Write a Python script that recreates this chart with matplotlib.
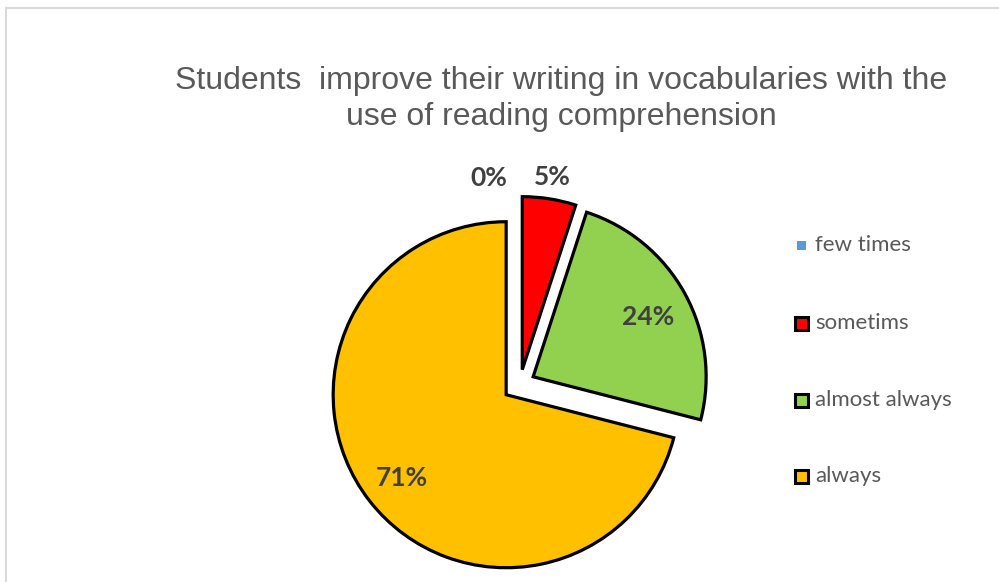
import numpy as np
import matplotlib.pyplot as plt
from matplotlib.patches import Rectangle

# data
categories = ["few times", "sometims", "almost always", "always"]
values = [0, 5, 24, 71]
colors = ["#5B9BD5", "#FF0000", "#92D050", "#FFC000"]
explode_px = [0, 14.5, 15, 17.5]

W, H = 999, 582
fig = plt.figure(figsize=(W / 100, H / 100), dpi=100)
ax = fig.add_axes([0, 0, 1, 1])

cx, cy, r = 520, H - 384, 173
# note: pie explode is in data units here (not a fraction of radius)
wedges, _ = ax.pie(values, colors=colors, startangle=90, counterclock=False,
                   center=(cx, cy), radius=r, explode=explode_px,
                   wedgeprops=dict(edgecolor="black", linewidth=2.3, joinstyle="miter"))
# empty slice shouldn't leave an outline
for w, v in zip(wedges, values):
    if v == 0:
        w.set_linewidth(0)
ax.set_xlim(0, W)
ax.set_ylim(0, H)
ax.set_aspect("equal")
ax.axis("off")

# percentage labels
label_pos = [(489, 178), (552, 177), (648, 317), (402, 478)]
for v, (x, y) in zip(values, label_pos):
    ax.text(x, H - y, f"{v}%", ha="center", va="center", fontsize=19,
            fontweight="bold", color="#404040", family="Lato")

# title
ax.text(561, H - 81, "Students  improve their writing in vocabularies with the",
        ha="center", va="center", fontsize=23, color="#595959", family="Liberation Sans")
ax.text(561, H - 117, "use of reading comprehension",
        ha="center", va="center", fontsize=23, color="#595959", family="Liberation Sans")

# legend
leg_y = [245, 323, 400, 476]
for i, (lab, col, y) in enumerate(zip(categories, colors, leg_y)):
    if i == 0:
        ax.add_patch(Rectangle((797, H - y - 4.5), 9, 9, facecolor=col, edgecolor="none"))
    else:
        ax.add_patch(Rectangle((795, H - y - 6.5), 13, 13, facecolor=col,
                               edgecolor="black", linewidth=2.2, joinstyle="miter"))
    ax.text(815, H - y, lab, ha="left", va="center", fontsize=16,
            color="#595959", family="Lato")

# chart border
fig.patches.append(Rectangle((6 / W, -0.1), 1.1, (H - 8) / H + 0.1, transform=fig.transFigure,
                             fill=False, edgecolor="#d9d9d9", linewidth=1.5))

fig.savefig("out.png")
